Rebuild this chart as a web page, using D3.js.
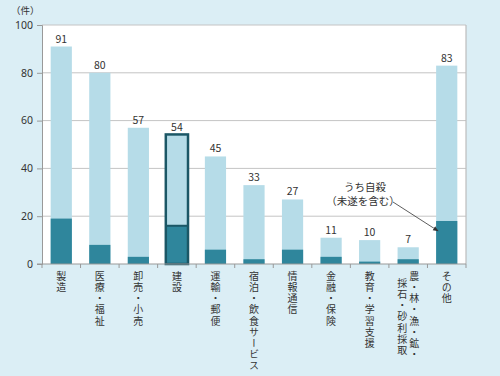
<!DOCTYPE html>
<html>
<head>
<meta charset="utf-8">
<script src="https://cdn.jsdelivr.net/npm/d3@7"></script>
<style>
  html, body { margin: 0; padding: 0; background: #dbeef5; }
  svg { display: block; font-family: "Noto Sans CJK JP", "Noto Sans", sans-serif; }
  .tick-label { font-size: 11px; fill: #333; }
  .val-label { font-size: 10.5px; fill: #333; }
  .cat-label { font-size: 10px; fill: #333; writing-mode: vertical-rl; text-orientation: upright; letter-spacing: 1.2px; }
</style>
</head>
<body>
<div id="chart"></div>
<script>
(function () {
    'use strict';

    // --- DATA ---
    const categories = ["製造", "医療・福祉", "卸売・小売", "建設", "運輸・郵便", "宿泊・飲食サービス",
        "情報通信", "金融・保険", "教育・学習支援", "農・林・漁・鉱・|採石・砂利採取", "その他"];
    const totals = [91, 80, 57, 54, 45, 33, 27, 11, 10, 7, 83];
    const suicides = [19, 8, 3, 16, 6, 2, 6, 3, 1, 2, 18];
    const yTicks = [0, 20, 40, 60, 80, 100];
    const highlighted = "建設";

    const W = 500, H = 376;
    const plot = { left: 42, right: 466, top: 25, bottom: 264 };

    const svg = d3.select("#chart").append("svg")
        .attr("width", W).attr("height", H);

    svg.append("rect").attr("width", W).attr("height", H).attr("fill", "#dbeef5");

    const x = d3.scaleBand().domain(categories)
        .range([plot.left, plot.right]).paddingInner(0.45).paddingOuter(0.225);
    const xBand = d3.scaleBand().domain(categories).range([plot.left, plot.right]);
    const y = d3.scaleLinear().domain([0, 100]).range([plot.bottom, plot.top]);

    // plot area
    svg.append("rect")
        .attr("x", plot.left).attr("y", plot.top)
        .attr("width", plot.right - plot.left).attr("height", plot.bottom - plot.top)
        .attr("fill", "#fff");

    // grid lines
    svg.selectAll(".grid").data(yTicks.filter(d => d > 0)).enter().append("line")
        .attr("x1", plot.left).attr("x2", plot.right)
        .attr("y1", d => y(d)).attr("y2", d => y(d))
        .attr("stroke", "#c4c4c4").attr("stroke-width", 1);

    // right border
    svg.append("line")
        .attr("x1", plot.right).attr("x2", plot.right)
        .attr("y1", plot.top).attr("y2", plot.bottom)
        .attr("stroke", "#bdbdbd").attr("stroke-width", 1.2);

    // bars
    const bars = svg.selectAll(".bar").data(categories).enter().append("g");
    bars.append("rect")
        .attr("x", d => x(d)).attr("width", x.bandwidth())
        .attr("y", (d, i) => y(totals[i]))
        .attr("height", (d, i) => y(0) - y(totals[i]))
        .attr("fill", "#b6dce8");
    bars.append("rect")
        .attr("x", d => x(d)).attr("width", x.bandwidth())
        .attr("y", (d, i) => y(suicides[i]))
        .attr("height", (d, i) => y(0) - y(suicides[i]))
        .attr("fill", "#2f869c");

    // highlighted outline
    const hi = categories.indexOf(highlighted);
    svg.append("rect")
        .attr("x", x(highlighted) - 0.5).attr("width", x.bandwidth() + 1)
        .attr("y", y(totals[hi]) - 0.5).attr("height", y(0) - y(totals[hi]) + 0.5)
        .attr("fill", "none").attr("stroke", "#1b5766").attr("stroke-width", 2.5);
    svg.append("line")
        .attr("x1", x(highlighted)).attr("x2", x(highlighted) + x.bandwidth())
        .attr("y1", y(suicides[hi])).attr("y2", y(suicides[hi]))
        .attr("stroke", "#1b5766").attr("stroke-width", 2);

    // value labels
    bars.append("text").attr("class", "val-label")
        .attr("x", d => x(d) + x.bandwidth() / 2)
        .attr("y", (d, i) => y(totals[i]) - 4)
        .attr("text-anchor", "middle")
        .text((d, i) => totals[i]);

    // y axis
    const yAxis = d3.axisLeft(y).tickValues(yTicks).tickSize(5).tickPadding(4);
    const ga = svg.append("g").attr("transform", `translate(${plot.left},0)`).call(yAxis);
    ga.select(".domain").attr("stroke", "#999");
    ga.selectAll(".tick line").attr("stroke", "#999");
    ga.selectAll(".tick text").attr("class", "tick-label").attr("fill", "#333")
        .style("font-family", "'Noto Sans', sans-serif").style("font-size", "10.5px");

    // x axis line with tick marks at band boundaries
    svg.append("line")
        .attr("x1", plot.left - 5).attr("x2", plot.right)
        .attr("y1", plot.bottom).attr("y2", plot.bottom)
        .attr("stroke", "#999");
    const bounds = categories.map(c => xBand(c)).concat([plot.right]);
    svg.selectAll(".xtick").data(bounds).enter().append("line")
        .attr("x1", d => d).attr("x2", d => d)
        .attr("y1", plot.bottom).attr("y2", plot.bottom + 4)
        .attr("stroke", "#999");

    // category labels (vertical)
    categories.forEach(c => {
        const cx = xBand(c) + xBand.bandwidth() / 2;
        const cols = c.split("|");
        if (cols.length === 1) {
            svg.append("text").attr("class", "cat-label")
                .attr("x", cx).attr("y", 271).text(c);
        } else {
            svg.append("text").attr("class", "cat-label")
                .attr("x", cx + 6).attr("y", 271).text(cols[0]);
            svg.append("text").attr("class", "cat-label")
                .attr("x", cx - 6).attr("y", 278).text(cols[1]);
        }
    });

    // unit label
    svg.append("text").attr("x", 11).attr("y", 14)
        .style("font-size", "9.5px").attr("fill", "#333").text("（件）");

    // annotation
    svg.append("text").attr("x", 365).attr("y", 191)
        .attr("text-anchor", "middle").style("font-size", "10.5px").attr("fill", "#333")
        .text("うち自殺");
    svg.append("text").attr("x", 363).attr("y", 205)
        .attr("text-anchor", "middle").style("font-size", "10.5px").attr("fill", "#333")
        .text("（未遂を含む）");

    svg.append("defs").append("marker")
        .attr("id", "arrow").attr("viewBox", "0 0 10 10")
        .attr("refX", 9).attr("refY", 5)
        .attr("markerWidth", 7).attr("markerHeight", 7)
        .attr("orient", "auto")
        .append("path").attr("d", "M0,1 L10,5 L0,9 Z").attr("fill", "#333");

    const last = categories[categories.length - 1];
    const ax = x(last) + 2, ay = y(suicides[categories.length - 1]) + 10;
    svg.append("line")
        .attr("x1", 393).attr("y1", 202)
        .attr("x2", ax).attr("y2", ay)
        .attr("stroke", "#333").attr("stroke-width", 0.8)
        .attr("marker-end", "url(#arrow)");
})();
</script>
</body>
</html>
